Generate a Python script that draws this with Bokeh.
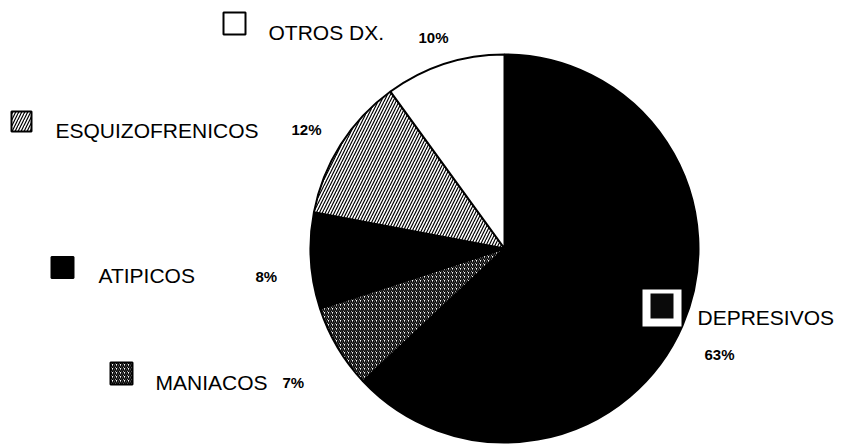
import math
from bokeh.plotting import figure
from bokeh.models import Range1d
from bokeh.models import ColumnDataSource
from bokeh.core.properties import value
from bokeh.embed import file_html
from bokeh.resources import INLINE

# ---- data (clockwise from 12 o'clock) ----
categories = ["DEPRESIVOS", "MANIACOS", "ATIPICOS", "ESQUIZOFRENICOS", "OTROS DX."]
percentages = [63, 7, 8, 12, 10]
pct_labels = ["63%", "7%", "8%", "12%", "10%"]

# ---- styles per slice ----
fills = ["#000000", "white", "#000000", "white", "white"]
hatch_patterns = [None, "right_diagonal_line", None, "right_diagonal_line", None]
hatch_weights = [1.0, 1.6, 1.0, 1.2, 1.0]
hatch_scales = [6, 4, 6, 6, 6]

W, H = 843, 446
def Y(py):
    return H - py

# layout (pixel coordinates, top-left origin)
cx, cy, R = 504, 248, 194
box_pos = {  # centre x, centre y, w, h
    "OTROS DX.": (234, 23, 22, 22),
    "ESQUIZOFRENICOS": (21, 121, 20, 20),
    "ATIPICOS": (62, 267, 22, 21),
    "MANIACOS": (121, 373, 22, 22),
}
label_pos = {
    "OTROS DX.": (268, 32),
    "ESQUIZOFRENICOS": (55, 130),
    "ATIPICOS": (98, 275),
    "MANIACOS": (155, 382),
    "DEPRESIVOS": (697, 317),
}
pct_pos = {
    "OTROS DX.": (418, 37),
    "ESQUIZOFRENICOS": (291, 129),
    "ATIPICOS": (255, 276),
    "MANIACOS": (282, 382),
    "DEPRESIVOS": (704, 354),
}

p = figure(width=W, height=H, x_range=Range1d(0, W), y_range=Range1d(0, H),
           output_backend="svg", toolbar_location=None, min_border=0)
p.axis.visible = False
p.grid.visible = False
p.outline_line_color = None
p.background_fill_color = "white"
p.border_fill_color = "white"

# wedges
total = float(sum(percentages))
cum = 0.0
for i, v in enumerate(percentages):
    start = math.pi / 2 - 2 * math.pi * cum / total
    cum += v
    end = math.pi / 2 - 2 * math.pi * cum / total
    kw = dict(fill_color=fills[i], line_color="black", line_width=2)
    if hatch_patterns[i]:
        kw.update(hatch_pattern=hatch_patterns[i], hatch_color="black",
                  hatch_weight=hatch_weights[i], hatch_scale=hatch_scales[i])
    p.wedge(x=cx, y=Y(cy), radius=R, start_angle=start, end_angle=end,
            direction="clock", **kw)

# DEPRESIVOS legend box: white backing with a black square inside
p.quad(left=642, right=681, top=Y(289), bottom=Y(326), fill_color="#ffffff", line_color=None)
p.quad(left=650, right=673, top=Y(293), bottom=Y(318), fill_color="#0a0a0a", line_color=None)

# other legend boxes
for i, c in enumerate(categories):
    if c not in box_pos:
        continue
    bx, by, bw, bh = box_pos[c]
    kw = dict(fill_color=fills[i], line_color="black", line_width=2)
    if hatch_patterns[i]:
        kw.update(hatch_pattern=hatch_patterns[i], hatch_color="black",
                  hatch_weight=hatch_weights[i], hatch_scale=hatch_scales[i])
    p.rect(x=bx, y=Y(by), width=bw, height=bh, **kw)

# labels
lsrc = ColumnDataSource(dict(
    x=[label_pos[c][0] for c in categories],
    y=[Y(label_pos[c][1]) for c in categories],
    t=categories))
p.text(x="x", y="y", text="t", source=lsrc, text_font=value("Liberation Sans"),
       text_font_size="21px", text_color="black", text_baseline="alphabetic", text_align="left")

psrc = ColumnDataSource(dict(
    x=[pct_pos[c][0] for c in categories],
    y=[Y(pct_pos[c][1]) for c in categories],
    t=pct_labels))
p.text(x="x", y="y", text="t", source=psrc, text_font=value("Liberation Sans"),
       text_font_size="15px", text_font_style="bold", text_color="black",
       text_baseline="alphabetic", text_align="left")

open("out.html", "w").write(file_html(p, INLINE))
